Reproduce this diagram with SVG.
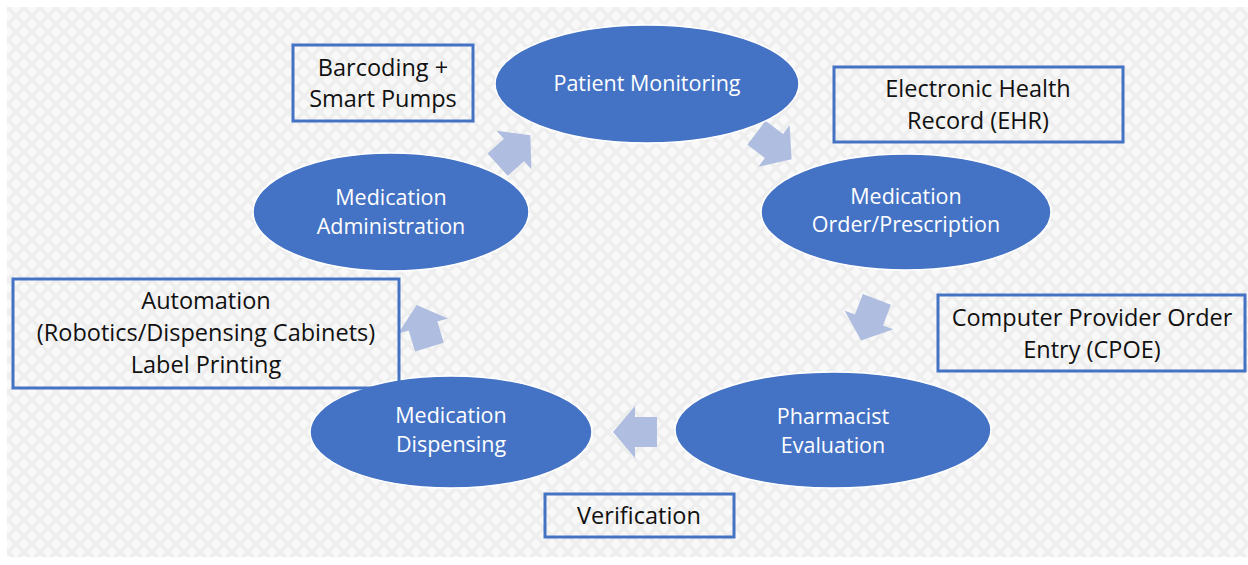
<svg xmlns="http://www.w3.org/2000/svg" width="1248" height="565" viewBox="0 0 1248 565">
<defs>
<pattern id="bg" width="16" height="16" patternUnits="userSpaceOnUse">
<rect width="16" height="16" fill="#f9f9f9"/>
<path d="M0,0 L16,16 M16,0 L0,16" stroke="#eeeeee" stroke-width="3.5"/>
</pattern>
<path id="blk" d="M-22,-15 H0 V-26 L22,0 L0,26 V15 H-22 Z"/>
<style>
.node ellipse{fill:#4472C4;stroke:#ffffff;stroke-width:1.5}
.node text{fill:#ffffff;font-family:"Open Sans","Liberation Sans",sans-serif;font-size:21.5px;text-anchor:middle}
.box rect{fill:none;stroke:#4472C4;stroke-width:3}
.box text{fill:#111111;font-family:"Open Sans","Liberation Sans",sans-serif;font-size:23.5px;text-anchor:middle}
.arrow use{fill:#AEBDE0}
</style>
</defs>
<rect x="0" y="0" width="1248" height="565" fill="#ffffff"/>
<rect x="7" y="7" width="1241" height="550" fill="url(#bg)"/>

<g id="connectors" class="arrow">
<use href="#blk" transform="translate(514,150) rotate(-42)"/>
<use href="#blk" transform="translate(774,146) rotate(37)"/>
<use href="#blk" transform="translate(869,320) rotate(111)"/>
<use href="#blk" transform="translate(635,432) rotate(180)"/>
<use href="#blk" transform="translate(423,326) rotate(-107)"/>
</g>

<g id="patient-monitoring" class="node">
<ellipse cx="647" cy="84" rx="152" ry="59"/>
<text x="647" y="91">Patient Monitoring</text>
</g>
<g id="medication-order" class="node">
<ellipse cx="906" cy="212" rx="145" ry="58"/>
<text x="906" y="204">Medication</text>
<text x="906" y="232">Order/Prescription</text>
</g>
<g id="pharmacist-evaluation" class="node">
<ellipse cx="833" cy="430" rx="158" ry="58"/>
<text x="833" y="424">Pharmacist</text>
<text x="833" y="453">Evaluation</text>
</g>
<g id="medication-dispensing" class="node">
<ellipse cx="451" cy="432" rx="141" ry="56"/>
<text x="451" y="423">Medication</text>
<text x="451" y="452">Dispensing</text>
</g>
<g id="medication-administration" class="node">
<ellipse cx="391" cy="212" rx="138" ry="59"/>
<text x="391" y="205">Medication</text>
<text x="391" y="234">Administration</text>
</g>

<g id="box-barcoding" class="box">
<rect x="293" y="45" width="180" height="76"/>
<text x="383" y="76">Barcoding +</text>
<text x="383" y="107">Smart Pumps</text>
</g>
<g id="box-ehr" class="box">
<rect x="834" y="67" width="289" height="75"/>
<text x="978" y="97">Electronic Health</text>
<text x="978" y="129">Record (EHR)</text>
</g>
<g id="box-cpoe" class="box">
<rect x="938" y="295" width="307" height="76"/>
<text x="1092" y="326">Computer Provider Order</text>
<text x="1092" y="358">Entry (CPOE)</text>
</g>
<g id="box-automation" class="box">
<rect x="13" y="279" width="386" height="109"/>
<text x="206" y="309">Automation</text>
<text x="206" y="341">(Robotics/Dispensing Cabinets)</text>
<text x="206" y="373">Label Printing</text>
</g>
<g id="box-verification" class="box">
<rect x="545" y="494" width="189" height="43"/>
<text x="639" y="524">Verification</text>
</g>
</svg>
